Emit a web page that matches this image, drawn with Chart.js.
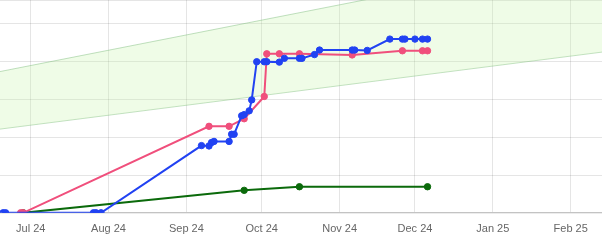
<!DOCTYPE html>
<html>
<head>
<meta charset="utf-8">
<script src="https://cdn.jsdelivr.net/npm/chart.js@4.4.1/dist/chart.umd.min.js"></script>
<style>
  html, body { margin: 0; padding: 0; background: #fff; }
  #wrap { width: 602px; height: 249px; position: relative; }
</style>
</head>
<body>
<div id="wrap"><canvas id="lineChart"></canvas></div>
<script>
// series (dates are UTC days)
var blueDates = ['2024-06-20','2024-06-21','2024-07-26','2024-07-27','2024-07-29',
  '2024-09-07','2024-09-10','2024-09-11','2024-09-12','2024-09-18','2024-09-19','2024-09-20',
  '2024-09-23','2024-09-24','2024-09-26','2024-09-27','2024-09-29','2024-10-02','2024-10-03',
  '2024-10-08','2024-10-10','2024-10-16','2024-10-17','2024-10-22','2024-10-24','2024-11-06',
  '2024-11-07','2024-11-12','2024-11-21','2024-11-26','2024-11-27','2024-12-01','2024-12-04','2024-12-06'];
var blueValues = [0, 0, 0, 0, 0,
  17.8, 17.7, 18.6, 18.9, 18.9, 20.8, 20.8,
  25.7, 26.0, 27.0, 29.9, 40.0, 40.0, 40.0,
  39.9, 40.9, 40.9, 40.9, 41.9, 43.1, 43.1,
  43.1, 43.0, 46.0, 46.0, 46.0, 46.0, 46.0, 46.0];

var pinkDates = ['2024-06-27','2024-06-28','2024-09-10','2024-09-18','2024-09-24','2024-10-02',
  '2024-10-03','2024-10-08','2024-10-16','2024-11-06','2024-11-26','2024-12-04','2024-12-06'];
var pinkValues = [0, 0, 22.9, 22.9, 24.9, 30.8, 42.1, 42.1, 42.1, 41.8, 42.9, 42.9, 42.9];

var greenDates = ['2024-06-28','2024-09-24','2024-10-16','2024-12-06'];
var greenValues = [0, 5.95, 6.9, 6.9];

// trend band
var bandDates = ['2024-06-18','2025-02-14'];
var bandUpper = [37.3, 68.8];
var bandLower = [22.1, 42.6];

var tickDates = ['2024-07-01','2024-08-01','2024-09-01','2024-10-01','2024-11-01','2024-12-01','2025-01-01','2025-02-01'];
var tickLabels = ['Jul 24','Aug 24','Sep 24','Oct 24','Nov 24','Dec 24','Jan 25','Feb 25'];

function toPoints(dates, values) {
  var pts = [];
  for (var i = 0; i < dates.length; i++) {
    pts.push({ x: Date.parse(dates[i]), y: values[i] });
  }
  return pts;
}

var tickValues = tickDates.map(function (d) { return Date.parse(d); });

var blue = '#2142f2';
var pink = '#f04f7c';
var green = '#0b6a0b';

new Chart(document.getElementById('lineChart'), {
  type: 'line',
  data: {
    datasets: [
      {
        label: 'Blue',
        data: toPoints(blueDates, blueValues),
        borderColor: blue, backgroundColor: blue,
        borderWidth: 2, pointRadius: 3.2, pointBorderWidth: 1, tension: 0
      },
      {
        label: 'Pink',
        data: toPoints(pinkDates, pinkValues),
        borderColor: pink, backgroundColor: pink,
        borderWidth: 2, pointRadius: 3.2, pointBorderWidth: 1, tension: 0
      },
      {
        label: 'Green',
        data: toPoints(greenDates, greenValues),
        borderColor: green, backgroundColor: green,
        borderWidth: 2, pointRadius: 3.2, pointBorderWidth: 1, tension: 0
      },
      {
        label: 'Upper',
        data: toPoints(bandDates, bandUpper),
        borderColor: 'rgba(120,185,120,0.45)', borderWidth: 1,
        backgroundColor: 'rgba(192,245,160,0.25)',
        pointRadius: 0, fill: '+1'
      },
      {
        label: 'Lower',
        data: toPoints(bandDates, bandLower),
        borderColor: 'rgba(120,185,120,0.45)', borderWidth: 1,
        pointRadius: 0, fill: false
      }
    ]
  },
  options: {
    responsive: true,
    maintainAspectRatio: false,
    animation: false,
    layout: { autoPadding: false, padding: { left: 0, right: 0, top: 0, bottom: 3 } },
    plugins: { legend: { display: false }, tooltip: { enabled: false } },
    scales: {
      x: {
        type: 'linear',
        min: Date.parse('2024-06-18T18:43:00Z'),
        max: Date.parse('2025-02-13T11:17:00Z'),
        afterBuildTicks: function (scale) {
          scale.ticks = tickValues.map(function (v) { return { value: v }; });
        },
        ticks: {
          autoSkip: false, maxRotation: 0, padding: 10,
          color: '#666', font: { size: 11, family: 'Arial, "Liberation Sans", sans-serif' },
          callback: function (value) {
            var i = tickValues.indexOf(value);
            return i >= 0 ? tickLabels[i] : '';
          }
        },
        grid: { color: 'rgba(0,0,0,0.1)', drawTicks: false },
        border: { color: 'rgba(0,0,0,0.15)', width: 1.5 }
      },
      y: {
        min: 0,
        max: 56.35,
        ticks: { display: false, stepSize: 10 },
        grid: { color: 'rgba(0,0,0,0.1)', drawTicks: false },
        border: { display: false }
      }
    }
  }
});
</script>
</body>
</html>
